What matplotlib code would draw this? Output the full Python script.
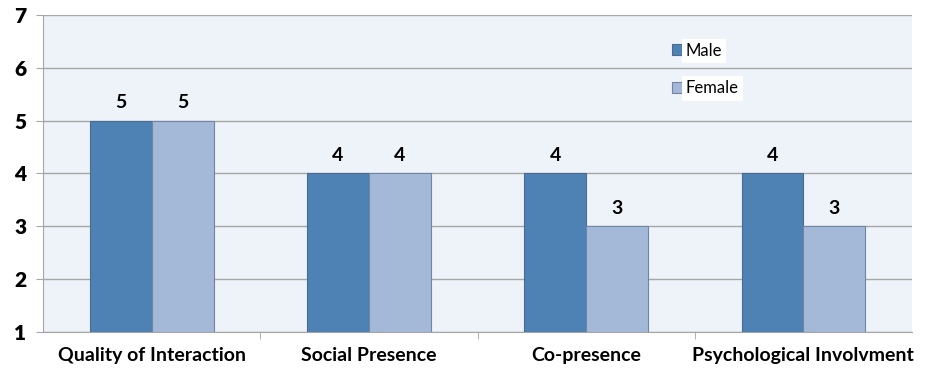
import numpy as np
import matplotlib.pyplot as plt

categories = ["Quality of Interaction", "Social Presence", "Co-presence", "Psychological Involvment"]
male = [5, 4, 4, 4]
female = [5, 4, 3, 3]

plt.rcParams['font.family'] = ['Lato', 'DejaVu Sans']

fig = plt.figure(figsize=(9.25, 3.75), dpi=100)
ax = fig.add_axes([0.0465, 0.1147, 0.9395, 0.8453])
ax.set_facecolor("#eef2f9")

x = np.arange(len(categories))
w = 0.285
base = 1
bars_m = ax.bar(x - w / 2, np.array(male) - base, w, bottom=base, color="#4f82b4",
                edgecolor="#4a6a8e", linewidth=0.8, label="Male", zorder=3)
bars_f = ax.bar(x + w / 2, np.array(female) - base, w, bottom=base, color="#a4b9d8",
                edgecolor="#6f85a6", linewidth=0.8, label="Female", zorder=3)

for xs, vals in ((x - w / 2, male), (x + w / 2, female)):
    for xi, v in zip(xs, vals):
        ax.annotate(str(v), (xi, v), xytext=(0, 7), textcoords="offset points",
                    ha="center", va="bottom", fontsize=14, fontweight="bold")

ax.set_xlim(-0.5, len(categories) - 0.5)
ax.set_ylim(1, 7)
ax.set_yticks(range(1, 8))
ax.yaxis.grid(True, color="#a6a6a6", linewidth=1.0, zorder=0)
ax.set_axisbelow(True)

ax.set_xticks(x)
ax.set_xticklabels(categories, fontsize=14, fontweight="bold")
ax.set_xticks(np.arange(0.5, len(categories) - 0.5, 1.0), minor=True)
ax.tick_params(axis="x", which="major", length=0, pad=11)
ax.tick_params(axis="x", which="minor", length=5, color="#a6a6a6", direction="out")
ax.tick_params(axis="y", length=5, color="#a6a6a6", labelsize=15, pad=7)
for lbl in ax.get_yticklabels():
    lbl.set_fontweight("heavy")

for side in ("top", "right"):
    ax.spines[side].set_visible(False)
for side in ("left", "bottom"):
    ax.spines[side].set_color("#a6a6a6")

leg = ax.legend(loc="upper left", bbox_to_anchor=(0.706, 0.96), frameon=False,
                handlelength=0.65, handleheight=0.65, handletextpad=0.2,
                labelspacing=1.3, fontsize=12)
for t in leg.get_texts():
    t.set_bbox(dict(facecolor="white", edgecolor="none", pad=3))

fig.savefig("out.png", dpi=100)
